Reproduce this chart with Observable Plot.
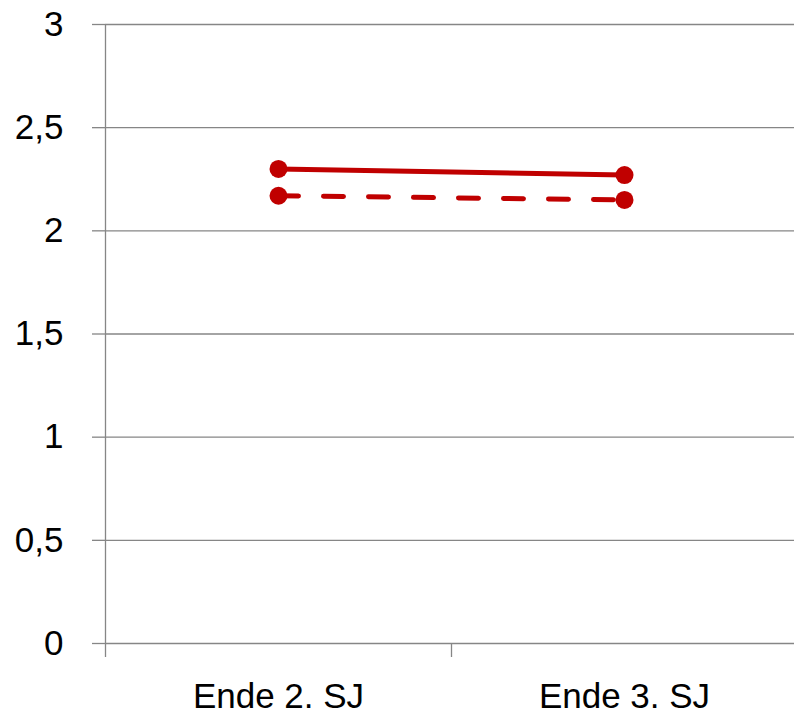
<!DOCTYPE html>
<html>
<head>
<meta charset="utf-8">
<script src="https://cdn.jsdelivr.net/npm/d3@7"></script>
<script src="https://cdn.jsdelivr.net/npm/@observablehq/plot@0.6"></script>
<style>
  html, body { margin: 0; padding: 0; background: #fff; }
  svg { display: block; }
</style>
</head>
<body>
<div id="chart"></div>
<script>
// School-year checkpoints on the horizontal axis
const categories = ["Ende 2. SJ", "Ende 3. SJ"];
// Mean values for the two groups (solid and dashed series)
const solidValues = [2.30, 2.27];
const dashedValues = [2.17, 2.15];
// Value axis ticks and their labels
const yTicks = [0, 0.5, 1, 1.5, 2, 2.5, 3];
const yTickLabels = ["0", "0,5", "1", "1,5", "2", "2,5", "3"];

const red = "#C00000";
const grey = "#868686";
const font = "'Liberation Sans', Arial, sans-serif";

// each category occupies one unit; points sit in the middle of their slot
const solid = categories.map((c, i) => ({pos: i + 0.5, value: solidValues[i]}));
const dashed = categories.map((c, i) => ({pos: i + 0.5, value: dashedValues[i]}));
const slotEdges = d3.range(categories.length + 1);
const slotCenters = categories.map((c, i) => i + 0.5);

const chart = Plot.plot({
  width: 794,
  height: 718,
  marginTop: 24,
  marginBottom: 75,
  marginLeft: 105,
  marginRight: 0,
  style: {fontFamily: font, color: "#000", background: "#fff"},
  x: {domain: [0, categories.length], range: [105, 797]},
  y: {domain: [0, 3]},
  marks: [
    // horizontal gridlines
    Plot.ruleY(yTicks, {stroke: grey, strokeWidth: 1.3, strokeOpacity: 1}),
    // vertical axis line, continuing into the first category tick
    Plot.ruleX([0], {y1: 0, y2: 3, stroke: grey, strokeWidth: 1.3}),
    Plot.axisY({
      ticks: yTicks,
      tickFormat: (d) => yTickLabels[yTicks.indexOf(d)],
      tickSize: 13,
      tickPadding: 29,
      stroke: grey,
      strokeWidth: 1.3,
      fontSize: 35,
      label: null
    }),
    // category separators below the baseline
    Plot.axisX({
      ticks: slotEdges,
      tickFormat: () => "",
      tickSize: 14,
      stroke: grey,
      strokeWidth: 1.3,
      label: null
    }),
    // category labels
    Plot.axisX({
      ticks: slotCenters,
      tickFormat: (d) => categories[Math.round(d - 0.5)],
      tickSize: 0,
      tickPadding: 40,
      fontSize: 35,
      label: null
    }),
    Plot.line(solid, {x: "pos", y: "value", stroke: red, strokeWidth: 5}),
    Plot.line(dashed, {x: "pos", y: "value", stroke: red, strokeWidth: 5, strokeDasharray: "20,25", strokeLinecap: "round"}),
    Plot.dot(solid, {x: "pos", y: "value", r: 9, fill: red, stroke: "none"}),
    Plot.dot(dashed, {x: "pos", y: "value", r: 9, fill: red, stroke: "none"})
  ]
});

document.getElementById("chart").append(chart);
</script>
</body>
</html>
